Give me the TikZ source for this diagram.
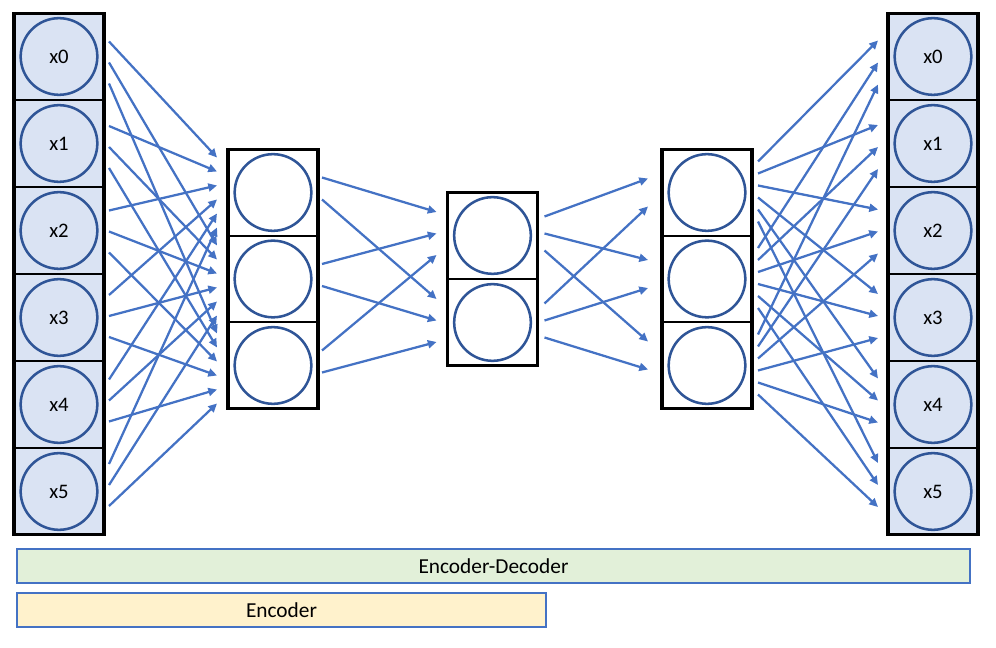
\documentclass[tikz,border=0pt]{standalone}
\usepackage{fontspec}
\setmainfont{Carlito}
\usetikzlibrary{arrows.meta,calc}
\definecolor{cellblue}{HTML}{DAE3F3}
\definecolor{ringblue}{HTML}{2F5597}
\definecolor{linkblue}{HTML}{4472C4}
\definecolor{bargreen}{HTML}{E2F0D9}
\definecolor{baryellow}{HTML}{FFF2CC}
\tikzstyle{cell} = [rectangle, draw, line width=1.4pt, minimum width=67.5pt, minimum height=65pt, inner sep=0pt, outer sep=0pt]
\tikzstyle{unit} = [circle, draw=ringblue, line width=1.9pt, minimum size=57.5pt, inner sep=0pt, font=\fontsize{15.5}{18}\selectfont]
\tikzstyle{frame} = [draw, line width=2.4pt]
\tikzstyle{link} = [-{Triangle[length=6.5pt,width=6pt]}, draw=linkblue, line width=1.7pt]
\tikzstyle{bar} = [rectangle, draw=linkblue, line width=1.5pt, inner sep=0pt, font=\fontsize{16}{19}\selectfont]

\begin{document}
\begin{tikzpicture}[x=0.75pt, y=-0.75pt]
    \useasboundingbox (0,0) rectangle (996,648);

    % Input and output columns
    \foreach \i in {0,...,5} {
        \node[cell, fill=cellblue] (in\i) at (59,{56.5+87*\i}) {};
        \node[unit, fill=cellblue] (inu\i) at (in\i) {x\i};
        \node[cell, fill=cellblue] (out\i) at (933,{56.5+87*\i}) {};
        \node[unit, fill=cellblue] (outu\i) at (out\i) {x\i};
    }
    \draw[frame] (in0.north west) rectangle (in5.south east);
    \draw[frame] (out0.north west) rectangle (out5.south east);

    % Hidden layers
    \foreach \j in {0,1,2} {
        \node[cell] (enc\j) at (273,{192.5+86.5*\j}) {};
        \node[unit] (encu\j) at (enc\j) {};
        \node[cell] (dec\j) at (707,{192.5+86.5*\j}) {};
        \node[unit] (decu\j) at (dec\j) {};
    }
    \draw[frame] (enc0.north west) rectangle (enc2.south east);
    \draw[frame] (dec0.north west) rectangle (dec2.south east);

    % Code layer
    \foreach \k in {0,1} {
        \node[cell] (code\k) at (492.5,{235.5+87*\k}) {};
        \node[unit] (codeu\k) at (code\k) {};
    }
    \draw[frame] (code0.north west) rectangle (code1.south east);

    % Links
    \foreach \i in {0,...,5}
        \foreach \j in {0,1,2}
            \draw[link] ($(in\i.east)+(5,{(\j-1)*21+6-2.5*\i})$) -- ($(enc\j.west)+(-11,{(\i-2.5)*14+1.5*\j})$);
    \foreach \i in {0,1,2}
        \foreach \j in {0,1}
            \draw[link] ($(enc\i.east)+(4,{(\j-0.5)*22-4})$) -- ($(code\j.west)+(-11,{(\i-1)*21.5-2})$);
    \foreach \i in {0,1}
        \foreach \j in {0,1,2}
            \draw[link] ($(code\i.east)+(7,{(\j-1)*17-2})$) -- ($(dec\j.west)+(-14,{(\i-0.5)*28-5*\j})$);
    \foreach \i in {0,1,2}
        \foreach \j in {0,...,5}
            \draw[link] ($(dec\i.east)+(6,{(\j-2.5)*12-1})$) -- ($(out\j.west)+(-10,{(\i-1)*22+6-2.5*\j})$);

    % Spans
    \node[bar, fill=bargreen, minimum width=714.75pt, minimum height=25.5pt] (encdec) at (493.5,566) {Encoder-Decoder};
    \node[bar, fill=baryellow, minimum width=396.75pt, minimum height=25.5pt] (encspan) at (281.5,610) {Encoder};
\end{tikzpicture}
\end{document}
